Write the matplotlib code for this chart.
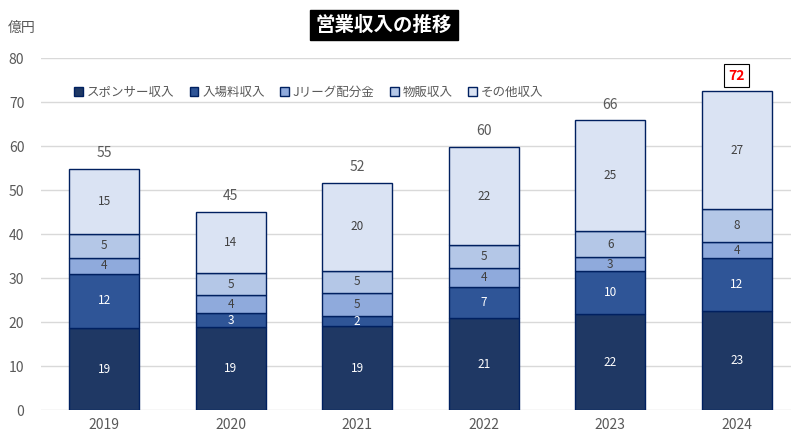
import matplotlib
matplotlib.use("Agg")
import matplotlib.pyplot as plt
from matplotlib.patches import Patch
import numpy as np

plt.rcParams['font.family'] = ['Noto Sans CJK JP', 'DejaVu Sans']

years = ["2019", "2020", "2021", "2022", "2023", "2024"]
series_names = ["スポンサー収入", "入場料収入", "Jリーグ配分金", "物販収入", "その他収入"]
sponsor = [18.6, 18.8, 19.0, 20.8, 21.75, 22.4]
ticket = [12.4, 3.2, 2.4, 7.1, 9.75, 12.1]
jleague = [3.6, 4.1, 5.3, 4.3, 3.2, 3.6]
merch = [5.4, 5.0, 5.0, 5.2, 5.9, 7.6]
other = [14.8, 13.9, 20.0, 22.3, 25.2, 26.7]
seg_labels = [
    ["19", "19", "19", "21", "22", "23"],
    ["12", "3", "2", "7", "10", "12"],
    ["4", "4", "5", "4", "3", "4"],
    ["5", "5", "5", "5", "6", "8"],
    ["15", "14", "20", "22", "25", "27"],
]
total_labels = ["55", "45", "52", "60", "66", "72"]
yticks = [0, 10, 20, 30, 40, 50, 60, 70, 80]

colors = ["#1F3864", "#2F5597", "#8FAADC", "#B4C7E7", "#DAE3F3"]
text_colors = ["white", "white", "#404040", "#404040", "#404040"]
edge = "#002060"
gray = "#595959"

fig = plt.figure(figsize=(7.91, 4.42), dpi=100)
ax = fig.add_axes([41/791, 32/442, 759/791, 352/442])

data = [sponsor, ticket, jleague, merch, other]
x = np.arange(len(years))
bottom = np.zeros(len(years))
for i, vals in enumerate(data):
    v = np.array(vals)
    ax.bar(x, v, bottom=bottom, width=0.55, color=colors[i], edgecolor=edge,
           linewidth=1.0, zorder=3)
    for j in range(len(years)):
        ax.text(x[j], bottom[j] + v[j] / 2, seg_labels[i][j], ha="center", va="center",
                fontsize=8.5, color=text_colors[i], zorder=4)
    bottom = bottom + v

for j in range(len(years)):
    if j == len(years) - 1:
        ax.text(x[j], bottom[j] + 3.6, total_labels[j], ha="center", va="center",
                fontsize=10, color="red", fontweight="bold", zorder=4,
                bbox=dict(boxstyle="square,pad=0.3", fc="white", ec="black", lw=0.8))
    else:
        ax.text(x[j], bottom[j] + 3.6, total_labels[j], ha="center", va="center",
                fontsize=10, color=gray, zorder=4)

ax.set_xlim(-0.5, len(years) - 0.5)
ax.set_ylim(0, 80)
ax.set_yticks(yticks)
ax.set_xticks(x)
ax.set_xticklabels(years)
ax.tick_params(axis="both", length=0, colors=gray, labelsize=10)
ax.tick_params(axis="y", pad=12)
ax.tick_params(axis="x", pad=6)
ax.yaxis.grid(True, color="#D9D9D9", linewidth=1.0, zorder=0)
for s in ax.spines.values():
    s.set_visible(False)

handles = [Patch(facecolor=colors[i], edgecolor=edge, linewidth=1.0) for i in range(5)]
leg = ax.legend(handles, series_names, loc="upper left", bbox_to_anchor=(0.037, 0.935),
                ncol=5, frameon=False, fontsize=9, handlelength=0.7, handleheight=0.7,
                handletextpad=0.3, columnspacing=1.25, borderaxespad=0)
for t in leg.get_texts():
    t.set_color(gray)

fig.text(384/791, 1 - 25/442, "営業収入の推移", ha="center", va="center", fontsize=14,
         fontweight="bold", color="white",
         bbox=dict(boxstyle="square,pad=0.3", fc="black", ec="black"))
fig.text(8/791, 1 - 28/442, "億円", ha="left", va="center", fontsize=10, color=gray)

fig.savefig("out.png", dpi=100)
